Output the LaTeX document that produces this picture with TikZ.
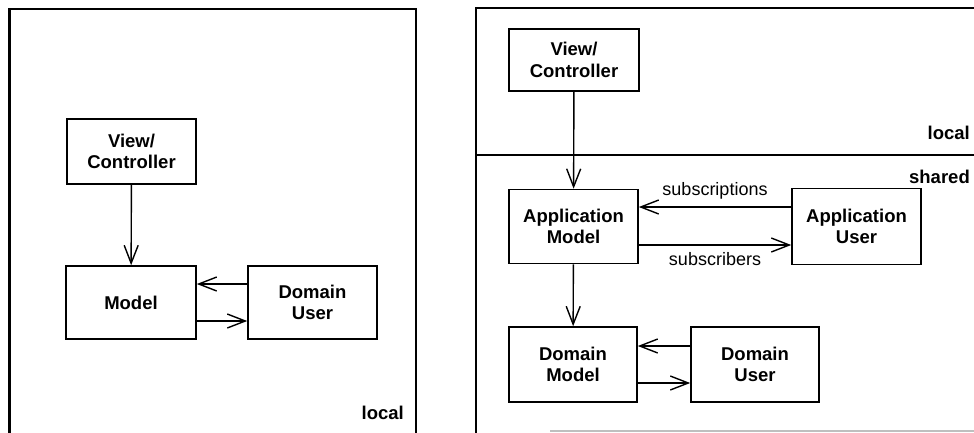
\documentclass[tikz,border=0pt]{standalone}
\usepackage{fontspec}
\setmainfont{Liberation Sans}
\usetikzlibrary{arrows.meta}
\begin{document}
\begin{tikzpicture}[x=1pt,y=-1pt,
  box/.style={draw,line width=1.6pt,rectangle,inner sep=0pt,align=center,
    font=\fontsize{18.5}{21.5}\selectfont\bfseries},
  arr/.style={line width=1.4pt,-{Straight Barb[length=18pt,width=14pt,line width=1.4pt]}},
  frame/.style={line width=2.2pt},
  tag/.style={font=\fontsize{18.5}{21.5}\selectfont\bfseries,anchor=east,inner sep=0pt},
  msg/.style={font=\fontsize{18}{21}\selectfont,inner sep=0pt}]
\useasboundingbox (0,0) rectangle (974,432);
\begin{scope}
\clip (0,0) rectangle (974,432);
% left panel: everything local
\draw[frame] (9.5,440) -- (9.5,9) -- (416,9) -- (416,440);
% right panel: local part above, shared part below
\draw[frame] (476,440) -- (476,8) -- (990,8);
\draw[frame] (476,155) -- (990,155);
\draw[line width=1.2pt,black!25] (550,431) -- (990,431);
\end{scope}

% left panel
\node[box,minimum width=129pt,minimum height=65pt] (vc) at (131.5,151.5) {View/\\Controller};
\node[box,minimum width=130pt,minimum height=73pt] (m) at (131,302.5) {Model};
\node[box,minimum width=129pt,minimum height=73pt] (du) at (312.5,302.5) {Domain\\User};
\draw[arr] (vc) -- (m);
\draw[arr] ([yshift=18.5pt]du.west) -- ([yshift=18.5pt]m.east);
\draw[arr] ([yshift=-18.5pt]m.east) -- ([yshift=-18.5pt]du.west);
\node[tag] (lloc) at (404,413) {local};

% right panel
\node[box,minimum width=130pt,minimum height=62pt] (vc2) at (574,60) {View/\\Controller};
\node[box,minimum width=129pt,minimum height=74pt] (am) at (573.5,226.5) {Application\\Model};
\node[box,minimum width=129pt,minimum height=76pt] (au) at (856.5,226.5) {Application\\User};
\node[box,minimum width=128pt,minimum height=75pt] (dm) at (573,364.5) {Domain\\Model};
\node[box,minimum width=128pt,minimum height=75pt] (du2) at (755,364.5) {Domain\\User};
\draw[arr] (vc2) -- (am);
\draw[arr] (am) -- (dm);
\draw[arr] ([yshift=19.5pt]au.west) -- node[msg,above=7pt] (subs) {subscriptions} ([yshift=19.5pt]am.east);
\draw[arr] ([yshift=-18.5pt]am.east) -- node[msg,below=7pt] (subr) {subscribers} ([yshift=-18.5pt]au.west);
\draw[arr] ([yshift=18.5pt]du2.west) -- ([yshift=18.5pt]dm.east);
\draw[arr] ([yshift=-18.5pt]dm.east) -- ([yshift=-18.5pt]du2.west);
\node[tag] (rloc) at (970,133) {local};
\node[tag] (rsh) at (970,177) {shared};
\end{tikzpicture}
\end{document}
